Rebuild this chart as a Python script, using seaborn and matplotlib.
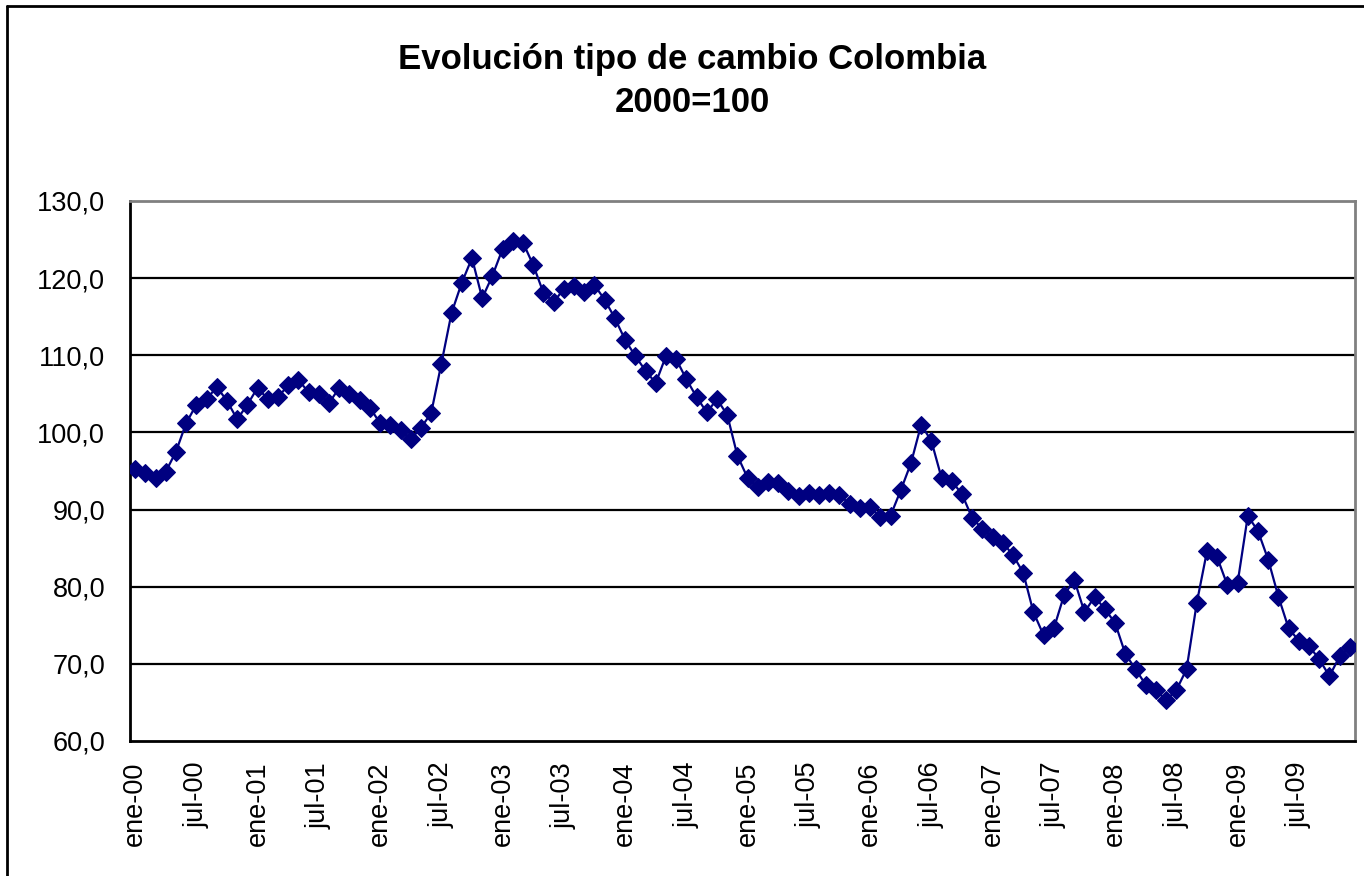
# -*- coding: utf-8 -*-
""" Evolución tipo de cambio Colombia (índice 2000=100) """

import numpy as np
import pandas as pd
import matplotlib
matplotlib.use("Agg")
import matplotlib.pyplot as plt
from matplotlib.lines import Line2D
import seaborn as sns

# ------------------------------ Datos ------------------------------

anios = ["00", "01", "02", "03", "04", "05", "06", "07", "08", "09"]
meses = ["ene", "feb", "mar", "abr", "may", "jun",
         "jul", "ago", "sep", "oct", "nov", "dic"]

indice = [
    # 2000
    95.3, 94.7, 94.1, 94.9, 97.5, 101.2, 103.6, 104.3, 105.9, 104.1, 101.7, 103.6,
    # 2001
    105.8, 104.3, 104.6, 106.1, 106.8, 105.2, 105.0, 103.8, 105.8, 105.0, 104.2, 103.2,
    # 2002
    101.2, 101.0, 100.3, 99.1, 100.6, 102.5, 108.9, 115.5, 119.4, 122.6, 117.4, 120.3,
    # 2003
    123.8, 124.8, 124.6, 121.7, 118.1, 116.9, 118.6, 119.0, 118.2, 119.1, 117.2, 114.8,
    # 2004
    112.0, 109.9, 108.0, 106.4, 109.9, 109.5, 106.9, 104.6, 102.6, 104.3, 102.3, 97.0,
    # 2005
    94.1, 92.9, 93.6, 93.4, 92.4, 91.8, 92.1, 91.9, 92.1, 91.9, 90.7, 90.2,
    # 2006
    90.3, 89.0, 89.2, 92.5, 96.0, 101.0, 98.9, 94.1, 93.7, 92.0, 88.9, 87.5,
    # 2007
    86.4, 85.7, 84.1, 81.8, 76.7, 73.7, 74.6, 78.9, 80.9, 76.7, 78.7, 77.1,
    # 2008
    75.3, 71.3, 69.3, 67.3, 66.6, 65.3, 66.6, 69.3, 77.9, 84.6, 83.8, 80.2,
    # 2009
    80.5, 89.2, 87.2, 83.5, 78.7, 74.6, 73.0, 72.3, 70.6, 68.4, 71.0, 72.2,
]

etiquetas_y = [60, 70, 80, 90, 100, 110, 120, 130]

# ------------------------------ Gráfico ------------------------------

periodos = [f"{m}-{a}" for a in anios for m in meses]
df = pd.DataFrame({"pos": np.arange(len(indice)), "periodo": periodos, "indice": indice})

sns.set_style("white")
plt.rcParams["font.family"] = ["Liberation Sans", "DejaVu Sans"]
plt.rcParams["text.color"] = "black"
plt.rcParams["xtick.color"] = "black"
plt.rcParams["ytick.color"] = "black"

fig = plt.figure(figsize=(13.64, 8.76), dpi=100)
ax = fig.add_axes([130 / 1364, 1 - 741 / 876, 1225 / 1364, 540 / 876])

sns.lineplot(data=df, x="pos", y="indice", ax=ax, color="#000080",
             linewidth=1.6, marker="D", markersize=9,
             markeredgecolor="#000080", markerfacecolor="#000080", zorder=3)

ax.set_xlim(-0.5, len(indice) - 0.5)
ax.set_ylim(60, 130)

# lineas de cuadricula horizontales
for v in etiquetas_y[1:-1]:
    ax.axhline(v, color="black", linewidth=1.6, zorder=1)

ax.set_yticks(etiquetas_y)
ax.set_yticklabels([f"{v:.1f}".replace(".", ",") for v in etiquetas_y], fontsize=19.5)

# marcas entre categorias cada 6 meses, etiquetas en el mes
ax.set_xticks(np.arange(-0.5, len(indice), 6))
ax.set_xticklabels([])
ax.set_xticks(np.arange(0, len(indice), 6), minor=True)
ax.set_xticklabels(periodos[::6], minor=True, rotation=90, fontsize=19.5)
ax.tick_params(axis="x", which="minor", length=0, pad=15)
ax.tick_params(axis="x", which="major", length=8, width=2, direction="out")
ax.tick_params(axis="y", length=8, width=2, direction="out", pad=10)

ax.set_xlabel("")
ax.set_ylabel("")

for lado in ["left", "bottom"]:
    ax.spines[lado].set_color("black")
    ax.spines[lado].set_linewidth(2)
for lado in ["top", "right"]:
    ax.spines[lado].set_visible(True)
    ax.spines[lado].set_color("#808080")
    ax.spines[lado].set_linewidth(2)

fig.text(692 / 1364, 1 - 59 / 876, "Evolución tipo de cambio Colombia",
         ha="center", va="center", fontsize=25, fontweight="bold")
fig.text(692 / 1364, 1 - 102 / 876, "2000=100",
         ha="center", va="center", fontsize=25, fontweight="bold")

# borde del area del grafico
fig.add_artist(Line2D([7 / 1364, 7 / 1364], [0, 1 - 6 / 876], color="black", linewidth=2,
                      transform=fig.transFigure))
fig.add_artist(Line2D([7 / 1364, 1], [1 - 6 / 876, 1 - 6 / 876], color="black", linewidth=2,
                      transform=fig.transFigure))

fig.savefig("out.png", dpi=100)
